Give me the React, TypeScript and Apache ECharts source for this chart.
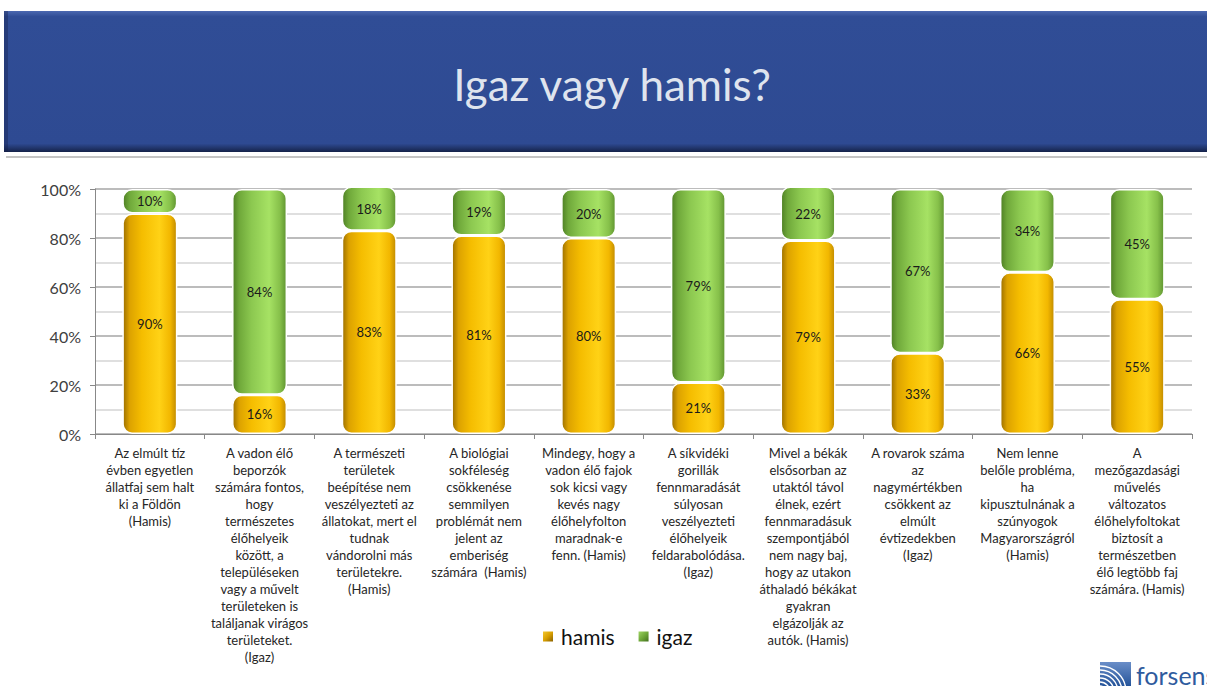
import React, { useEffect, useRef } from "react";
import * as echarts from "echarts";

const categories = [
  "Az elmúlt tíz\névben egyetlen\nállatfaj sem halt\nki a Földön\n(Hamis)",
  "A vadon élő\nbeporzók\nszámára fontos,\nhogy\ntermészetes\nélőhelyeik\nközött, a\ntelepüléseken\nvagy a művelt\nterületeken is\ntaláljanak virágos\nterületeket.\n(Igaz)",
  "A természeti\nterületek\nbeépítése nem\nveszélyezteti az\nállatokat, mert el\ntudnak\nvándorolni más\nterületekre.\n(Hamis)",
  "A biológiai\nsokféleség\ncsökkenése\nsemmilyen\nproblémát nem\njelent az\nemberiség\nszámára  (Hamis)",
  "Mindegy, hogy a\nvadon élő fajok\nsok kicsi vagy\nkevés nagy\nélőhelyfolton\nmaradnak-e\nfenn. (Hamis)",
  "A síkvidéki\ngorillák\nfennmaradását\nsúlyosan\nveszélyezteti\nélőhelyeik\nfeldarabolódása.\n(Igaz)",
  "Mivel a békák\nelsősorban az\nutaktól távol\nélnek, ezért\nfennmaradásuk\nszempontjából\nnem nagy baj,\nhogy az utakon\náthaladó békákat\ngyakran\nelgázolják az\nautók. (Hamis)",
  "A rovarok száma\naz\nnagymértékben\ncsökkent az\nelmúlt\névtizedekben\n(Igaz)",
  "Nem lenne\nbelőle probléma,\nha\nkipusztulnának a\nszúnyogok\nMagyarországról\n(Hamis)",
  "A\nmezőgazdasági\nművelés\nváltozatos\nélőhelyfoltokat\nbiztosít a\ntermészetben\nélő legtöbb faj\nszámára. (Hamis)",
];

const hamis = [90, 16, 83, 81, 80, 21, 79, 33, 66, 55];
const igaz = [10, 84, 18, 19, 20, 79, 22, 67, 34, 45];

const title = "Igaz vagy hamis?";
const seriesNames = ["hamis", "igaz"];

const FONT = "Lato, 'Open Sans', sans-serif";

const yellowGrad = new echarts.graphic.LinearGradient(0, 0, 1, 0, [
  { offset: 0, color: "#9c6f00" },
  { offset: 0.12, color: "#dca200" },
  { offset: 0.35, color: "#f5bd00" },
  { offset: 0.68, color: "#ffd216" },
  { offset: 0.88, color: "#f2b700" },
  { offset: 1, color: "#c08a00" },
]);
const greenGrad = new echarts.graphic.LinearGradient(0, 0, 1, 0, [
  { offset: 0, color: "#4e7f24" },
  { offset: 0.12, color: "#6fa83a" },
  { offset: 0.35, color: "#8cc850" },
  { offset: 0.68, color: "#a6e264" },
  { offset: 0.88, color: "#86c04a" },
  { offset: 1, color: "#5f9430" },
]);
const yellowLegend = new echarts.graphic.LinearGradient(0, 0, 1, 1, [
  { offset: 0, color: "#f7cf3a" },
  { offset: 0.5, color: "#d9a000" },
  { offset: 1, color: "#7a5400" },
]);
const greenLegend = new echarts.graphic.LinearGradient(0, 0, 1, 1, [
  { offset: 0, color: "#a8dc6c" },
  { offset: 0.5, color: "#6fa83a" },
  { offset: 1, color: "#3a6418" },
]);

export default function App() {
  const ref = useRef<HTMLDivElement>(null);
  useEffect(() => {
    document.body.style.margin = "0";
    if (!ref.current) return;
    const chart = echarts.init(ref.current, null, { renderer: "svg" });
    const labelStyle = {
      show: true,
      position: "inside",
      formatter: "{c}%",
      color: "#1a1a1a",
      fontSize: 13,
      fontFamily: FONT,
    };
    chart.setOption({
      animation: false,
      backgroundColor: "#ffffff",
      textStyle: { fontFamily: FONT },
      grid: { left: 95, right: 15, top: 189, bottom: 252, containLabel: false },
      legend: {
        data: [
          { name: seriesNames[0], itemStyle: { color: yellowLegend } },
          { name: seriesNames[1], itemStyle: { color: greenLegend } },
        ],
        left: 541,
        top: 626,
        icon: "rect",
        itemWidth: 12,
        itemHeight: 12,
        itemGap: 22,
        padding: 0,
        textStyle: { fontSize: 21, color: "#111", fontFamily: FONT, padding: [0, 0, 0, 2] },
      },
      xAxis: {
        type: "category",
        data: categories,
        axisLine: { show: true, lineStyle: { color: "#888", width: 1 } },
        axisTick: { show: true, length: 5, lineStyle: { color: "#888" } },
        axisLabel: {
          interval: 0,
          margin: 10,
          fontSize: 13,
          lineHeight: 17,
          color: "#262626",
          fontFamily: FONT,
          align: "center",
          verticalAlign: "top",
        },
      },
      yAxis: {
        type: "value",
        min: 0,
        max: 100,
        interval: 20,
        axisLine: { show: true, lineStyle: { color: "#888", width: 1 } },
        axisTick: { show: true, length: 5, lineStyle: { color: "#888" } },
        axisLabel: {
          formatter: "{value}%",
          fontSize: 16,
          color: "#404040",
          margin: 14,
          fontFamily: FONT,
        },
        splitLine: { show: true, lineStyle: { color: "#a6a6a6", width: 1.5 } },
        minorTick: { show: false, splitNumber: 2 },
        minorSplitLine: { show: true, lineStyle: { color: "#d4d4d4", width: 1.5 } },
      },
      series: [
        {
          name: seriesNames[0],
          type: "bar",
          stack: "total",
          barWidth: 55,
          clip: false,
          data: hamis,
          itemStyle: {
            color: yellowGrad,
            borderRadius: 9,
            borderColor: "#ffffff",
            borderWidth: 1.5,
          },
          label: labelStyle,
        },
        {
          name: seriesNames[1],
          type: "bar",
          stack: "total",
          barWidth: 55,
          clip: false,
          data: igaz,
          itemStyle: {
            color: greenGrad,
            borderRadius: 9,
            borderColor: "#ffffff",
            borderWidth: 1.5,
          },
          label: labelStyle,
        },
      ],
      graphic: [
        {
          type: "rect",
          shape: { x: 4, y: 11, width: 1203, height: 141 },
          style: {
            fill: new echarts.graphic.LinearGradient(0, 0, 0, 1, [
              { offset: 0, color: "#4b68b0" },
              { offset: 0.04, color: "#304d96" },
              { offset: 0.94, color: "#2e4a92" },
              { offset: 0.97, color: "#22376e" },
              { offset: 1, color: "#15224a" },
            ]),
          },
          z: 0,
        },
        {
          type: "rect",
          shape: { x: 4, y: 11, width: 4, height: 141 },
          style: { fill: "rgba(20,30,70,0.35)" },
          z: 1,
        },
        {
          type: "text",
          x: 612,
          y: 84,
          style: {
            text: title,
            fill: "#dfe4ee",
            fontSize: 44,
            fontFamily: FONT,
            align: "center",
            verticalAlign: "middle",
          },
          z: 2,
        },
        {
          type: "rect",
          shape: { x: 6, y: 156, width: 1201, height: 2 },
          style: { fill: "#c4c4c4" },
          z: 1,
        },
        {
          type: "group",
          x: 1100,
          y: 662,
          children: [
            {
              type: "rect",
              shape: { x: 0, y: 0, width: 31, height: 26 },
              style: {
                fill: new echarts.graphic.LinearGradient(0, 0, 0, 1, [
                  { offset: 0, color: "#6a8ec8" },
                  { offset: 1, color: "#1f4f96" },
                ]),
              },
            },
            ...[6, 10, 14, 18, 22, 26].map((r) => ({
              type: "arc",
              shape: { cx: 0, cy: 30, r: r, startAngle: -Math.PI / 2, endAngle: 0 },
              style: { stroke: "#ffffff", lineWidth: 1.4, fill: "none" },
            })),
            {
              type: "text",
              x: 36,
              y: 13,
              style: {
                text: "forsense",
                fill: "#2f5b9e",
                fontSize: 25,
                fontFamily: FONT,
                verticalAlign: "middle",
              },
            },
          ],
        },
      ],
    });
    return () => chart.dispose();
  }, []);
  return (
    <div
      ref={ref}
      style={{ width: 1207, height: 686, overflow: "hidden", background: "#fff" }}
    />
  );
}
